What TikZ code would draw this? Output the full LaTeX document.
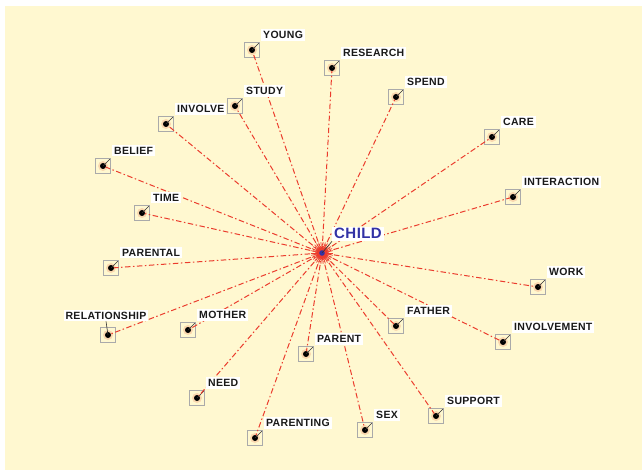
\documentclass[tikz,border=0pt]{standalone}
\usepackage{fontspec}
\newfontfamily\tagfont{Liberation Sans}[LetterSpace=3]
\usetikzlibrary{positioning}
\definecolor{cream}{RGB}{255,248,208}
\definecolor{linkred}{RGB}{235,60,45}
\definecolor{childblue}{RGB}{50,50,165}
\definecolor{boxgray}{RGB}{170,170,170}
\definecolor{glow}{RGB}{250,215,175}
\tikzset{
  link/.style={linkred,line width=1pt,dash pattern=on 5.5pt off 2.5pt on 1.5pt off 2.5pt,shorten >=3pt},
  burst/.style={linkred,line width=0.7pt},
  tick/.style={black!80,line width=0.6pt},
  word/.style={fill=white,inner sep=2pt,text=black!90,font=\tagfont\fontsize{10.5}{12}\selectfont\bfseries},
  tag/.style={word,above right=11.5pt and 9pt of #1,anchor=base west},
  termbare/.style={draw=boxgray,minimum size=15pt,inner sep=0pt,
    path picture={\fill[glow] (path picture bounding box.center) circle (5pt);
      \fill (path picture bounding box.center) circle (3pt);}},
  term/.style={draw=boxgray,minimum size=15pt,inner sep=0pt,
    path picture={\fill[glow] (path picture bounding box.center) circle (5pt);
      \fill (path picture bounding box.center) circle (3pt);
      \draw[tick] (path picture bounding box.center) -- (path picture bounding box.north east);}}
}

\begin{document}
\begin{tikzpicture}[x=1pt,y=-1pt]
  \fill[white] (0,0) rectangle (642,470);
  \fill[cream] (5,6) rectangle (642,470);

  \node[term] (young) at (252,50) {};
  \node[term] (research) at (332,68) {};
  \node[term] (spend) at (396,97) {};
  \node[term] (care) at (492,137) {};
  \node[term] (interaction) at (513,197) {};
  \node[term] (work) at (538,287) {};
  \node[term] (involvement) at (503,342) {};
  \node[term] (father) at (396,326) {};
  \node[term] (support) at (436,416) {};
  \node[term] (sex) at (365,430) {};
  \node[term] (parent) at (306,354) {};
  \node[term] (parenting) at (255,438) {};
  \node[term] (need) at (197,398) {};
  \node[term] (mother) at (188,330) {};
  \node[termbare] (relationship) at (108,335) {};
  \node[term] (parental) at (111,268) {};
  \node[term] (time) at (142,213) {};
  \node[term] (belief) at (103,166) {};
  \node[term] (involve) at (166,124) {};
  \node[term] (study) at (235,106) {};

  \coordinate (child) at (322,253);
  \foreach \t in {young,research,spend,care,interaction,work,involvement,father,support,sex,
                  parent,parenting,need,mother,relationship,parental,time,belief,involve,study}
    \draw[link] (child) -- (\t.center);

  \foreach \a in {0,12,...,348}
    {\draw[burst] (child) -- ++(\a:11pt);
     \draw[burst] (child) -- ++(\a+6:7pt);}
  \fill[childblue] (child) circle (2.8pt);

  \node[tag=young.center] (youngw) {YOUNG};
  \node[tag=research.center] (researchw) {RESEARCH};
  \node[tag=spend.center] (spendw) {SPEND};
  \node[tag=care.center] (carew) {CARE};
  \node[tag=interaction.center] (interactionw) {INTERACTION};
  \node[tag=work.center] (workw) {WORK};
  \node[tag=involvement.center] (involvementw) {INVOLVEMENT};
  \node[tag=father.center] (fatherw) {FATHER};
  \node[tag=support.center] (supportw) {SUPPORT};
  \node[tag=sex.center] (sexw) {SEX};
  \node[tag=parent.center] (parentw) {PARENT};
  \node[tag=parenting.center] (parentingw) {PARENTING};
  \node[tag=need.center] (needw) {NEED};
  \node[tag=mother.center] (motherw) {MOTHER};
  \node[word,above=16pt of relationship.center,anchor=base,xshift=-2pt] (relationshipw) {RELATIONSHIP};
    \draw[tick] (relationship.center) -- (relationshipw.south);
  \node[tag=parental.center] (parentalw) {PARENTAL};
  \node[tag=time.center] (timew) {TIME};
  \node[tag=belief.center] (beliefw) {BELIEF};
  \node[tag=involve.center] (involvew) {INVOLVE};
  \node[tag=study.center] (studyw) {STUDY};

  \node[word,text=childblue,font=\tagfont\fontsize{15}{17}\selectfont\bfseries,
        above right=14pt and 10pt of child,anchor=base west] (childw) {CHILD};
    \draw[tick] (child) -- (childw.south west);
\end{tikzpicture}
\end{document}
